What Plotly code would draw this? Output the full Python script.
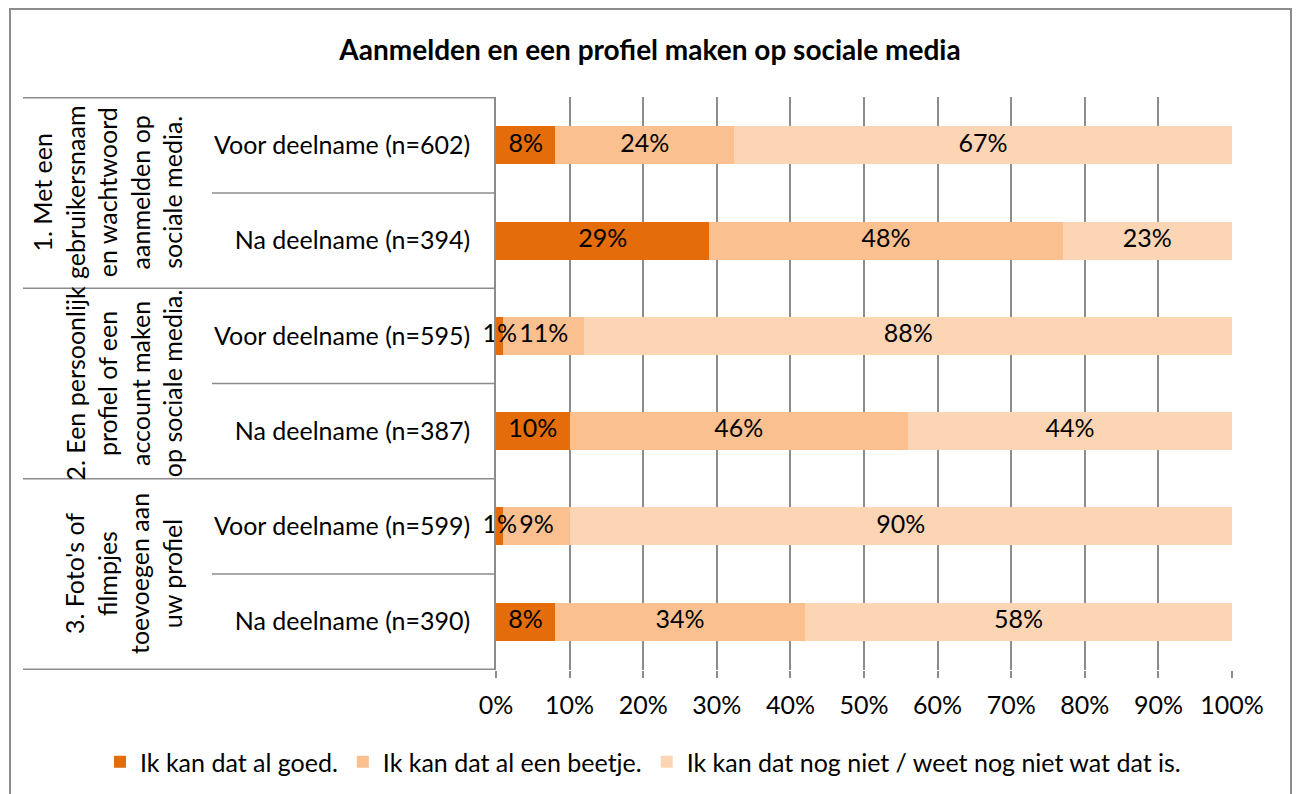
import plotly.graph_objects as go

# ---------------- data ----------------
row_labels = [
    "Voor deelname (n=602)", "Na deelname (n=394)",
    "Voor deelname (n=595)", "Na deelname (n=387)",
    "Voor deelname (n=599)", "Na deelname (n=390)",
]
group_labels = [
    "1. Met een<br>gebruikersnaam<br>en wachtwoord<br>aanmelden op<br>sociale media.",
    "2. Een persoonlijk<br>profiel of een<br>account maken<br>op sociale media.",
    "3. Foto's of<br>filmpjes<br>toevoegen aan<br>uw profiel",
]
series_names = [
    "Ik kan dat al goed.",
    "Ik kan dat al een beetje.",
    "Ik kan dat nog niet / weet nog niet wat dat is.",
]
goed = [8, 29, 1, 10, 1, 8]
beetje = [24, 48, 11, 46, 9, 34]
nognniet = [67, 23, 88, 44, 90, 58]
series_values = [goed, beetje, nognniet]
colors = ["#E46C0A", "#FAC090", "#FCD5B5"]
x_ticks = [0, 10, 20, 30, 40, 50, 60, 70, 80, 90, 100]
title_text = "Aanmelden en een profiel maken op sociale media"

FONT = "Lato"
FS = 25
GRID = "#8C8C8C"

W, H = 1296, 794
ML, MR, MT, MB = 496, 64, 97, 124
PW = W - ML - MR
PH = H - MT - MB


def px_x(p):
    return (p - ML) / PW


def px_y(p):
    return (H - MB - p) / PH


fig = go.Figure()
for name, vals, col in zip(series_names, series_values, colors):
    fig.add_trace(go.Bar(
        y=row_labels, x=vals, name=name, orientation="h",
        marker=dict(color=col, line=dict(width=0)),
        hoverinfo="skip",
    ))

# value labels drawn on top of all bars (centred on each normalised segment)
totals = [sum(t) for t in zip(*series_values)]
cum = [0.0] * len(row_labels)
for vals in series_values:
    centers = []
    for i, v in enumerate(vals):
        share = 100.0 * v / totals[i]
        centers.append(cum[i] + share / 2)
        cum[i] += share
    fig.add_trace(go.Scatter(
        x=centers, y=row_labels, mode="text",
        text=[f"{v}%" for v in vals], textposition="middle center",
        textfont=dict(family=FONT, size=FS, color="black"),
        showlegend=False, hoverinfo="skip", cliponaxis=False,
    ))

shapes = []
# group separators (full width of label table)
for b in [-0.5, 1.5, 3.5, 5.5]:
    shapes.append(dict(type="line", xref="paper", yref="y",
                       x0=px_x(23), x1=0, y0=b, y1=b,
                       line=dict(color=GRID, width=1.5), layer="below"))
# sub-row separators
for b in [0.5, 2.5, 4.5]:
    shapes.append(dict(type="line", xref="paper", yref="y",
                       x0=px_x(212), x1=0, y0=b, y1=b,
                       line=dict(color=GRID, width=1.5), layer="below"))
# chart border
shapes.append(dict(type="rect", xref="paper", yref="paper",
                   x0=px_x(10), x1=px_x(1291), y0=px_y(H + 20), y1=px_y(9),
                   line=dict(color=GRID, width=2), fillcolor="rgba(0,0,0,0)",
                   layer="below"))

annotations = []
for i, g in enumerate(group_labels):
    annotations.append(dict(
        xref="paper", yref="y", x=px_x(189), y=2 * i + 0.5,
        text=g, showarrow=False, textangle=-90,
        xanchor="right", yanchor="middle", align="center",
        font=dict(family=FONT, size=FS, color="black"),
    ))

fig.update_layout(
    width=W, height=H,
    margin=dict(l=ML, r=MR, t=MT, b=MB, autoexpand=False),
    barmode="stack", barnorm="percent", bargap=0.6,
    plot_bgcolor="white", paper_bgcolor="white",
    font=dict(family=FONT, size=FS, color="black"),
    title=dict(text="<b>" + title_text + "</b>", x=650 / W, xanchor="center",
               y=1 - 50 / H, yanchor="middle",
               font=dict(family=FONT, size=28, color="black")),
    xaxis=dict(range=[0, 100], tickvals=x_ticks,
               ticktext=[f"{t}%" for t in x_ticks],
               showgrid=True, gridcolor=GRID, gridwidth=1.5,
               ticks="outside", ticklen=7, tickcolor=GRID, tickwidth=1.5,
               ticklabelstandoff=6,
               zeroline=False, showline=False, automargin=False,
               tickfont=dict(family=FONT, size=FS, color="black")),
    yaxis=dict(categoryorder="array", categoryarray=row_labels,
               autorange="reversed", showgrid=False, zeroline=False,
               showline=True, linecolor=GRID, linewidth=1.5,
               ticks="", ticklabelstandoff=19, automargin=False,
               tickfont=dict(family=FONT, size=FS, color="black")),
    legend=dict(orientation="h", x=px_x(100), xanchor="left",
                y=px_y(762), yanchor="middle",
                font=dict(family=FONT, size=FS, color="black"),
                traceorder="normal"),
    shapes=shapes, annotations=annotations,
)

fig.write_html(
    "out.html",
    config={"displayModeBar": False},
    post_script="document.body.style.margin='0px';document.body.style.overflow='hidden';",
)
